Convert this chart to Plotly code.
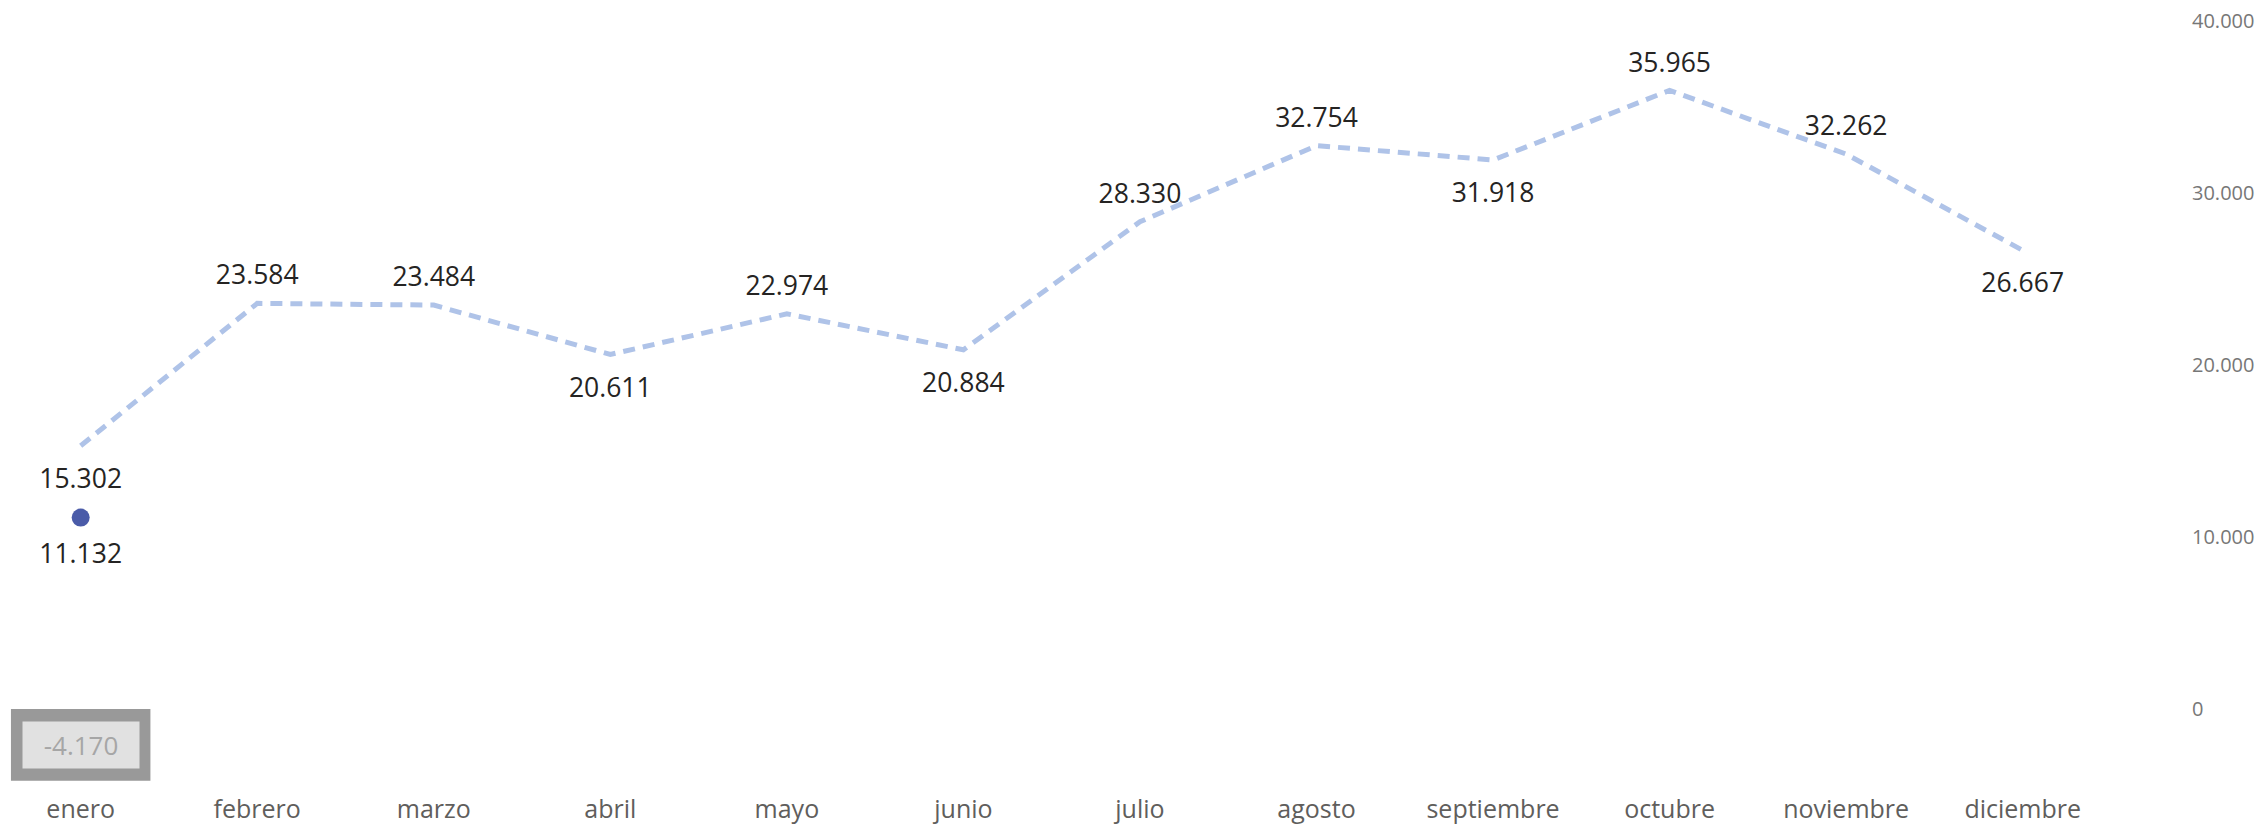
import plotly.graph_objects as go

months = ["enero", "febrero", "marzo", "abril", "mayo", "junio", "julio",
          "agosto", "septiembre", "octubre", "noviembre", "diciembre"]
line_values = [15302, 23584, 23484, 20611, 22974, 20884, 28330,
               32754, 31918, 35965, 32262, 26667]
label_above = [False, True, True, False, True, False, True, True,
               False, True, True, False]
dot_month = ["enero"]
dot_value = [11132]
diff_month = ["enero"]
diff_value = [-4170]
y_ticks = [0, 10000, 20000, 30000, 40000]

FONT = "Segoe UI, Open Sans, sans-serif"
LABEL_FONT = dict(family=FONT, size=26.5, color="#252423")

fig = go.Figure()

fig.add_trace(go.Bar(
    x=diff_month, y=diff_value, width=0.79,
    marker=dict(color="#999999", line=dict(width=0)),
    showlegend=False, hoverinfo="skip",
))

fig.add_trace(go.Scatter(
    x=months, y=line_values, mode="lines",
    line=dict(color="#AFC3E8", width=5, dash="12px,8px"),
    showlegend=False,
))

# labels above the line
fig.add_trace(go.Scatter(
    x=months, y=[v if a else None for v, a in zip(line_values, label_above)],
    mode="markers+text",
    marker=dict(size=18, color="rgba(0,0,0,0)"),
    texttemplate="%{y:,.0f}", textposition="top center",
    textfont=LABEL_FONT, showlegend=False, hoverinfo="skip",
))
# labels below the line
fig.add_trace(go.Scatter(
    x=months, y=[v if not a else None for v, a in zip(line_values, label_above)],
    mode="markers+text",
    marker=dict(size=34, color="rgba(0,0,0,0)"),
    texttemplate="%{y:,.0f}", textposition="bottom center",
    textfont=LABEL_FONT, showlegend=False, hoverinfo="skip",
))

fig.add_trace(go.Scatter(
    x=dot_month, y=dot_value, mode="markers",
    marker=dict(size=18, color="#4A5BA8"),
    showlegend=False,
))
fig.add_trace(go.Scatter(
    x=dot_month, y=dot_value, mode="markers+text",
    marker=dict(size=40, color="rgba(0,0,0,0)"),
    texttemplate="%{y:,.0f}", textposition="bottom center",
    textfont=LABEL_FONT, showlegend=False, hoverinfo="skip",
))

fig.add_annotation(
    x=diff_month[0], y=diff_value[0] / 2, xref="x", yref="y",
    text=f"{diff_value[0]:,}".replace(",", "."),
    showarrow=False, width=114, height=44,
    bgcolor="#E1E1E1",
    font=dict(family=FONT, size=26, color="#A6A6A6"),
)

fig.update_layout(
    width=2259, height=826,
    margin=dict(l=0, r=70, t=0, b=36, autoexpand=False),
    paper_bgcolor="white", plot_bgcolor="white",
    separators=",.",
    xaxis=dict(
        type="category", range=[-0.457, 11.942],
        showgrid=False, zeroline=False, showline=False, ticks="",
        ticklabelstandoff=2,
        tickfont=dict(family=FONT, size=25, color="#605E5C"),
    ),
    yaxis=dict(
        side="right", range=[-4709, 41221],
        tickvals=y_ticks, tickformat=",d",
        showgrid=False, zeroline=False, showline=False, ticks="",
        ticklabelstandoff=2,
        tickfont=dict(family=FONT, size=20, color="#777777"),
    ),
)

fig.write_html(
    "out.html",
    config={"displayModeBar": False},
    post_script="document.body.style.margin='0';document.body.style.overflow='hidden';",
)
